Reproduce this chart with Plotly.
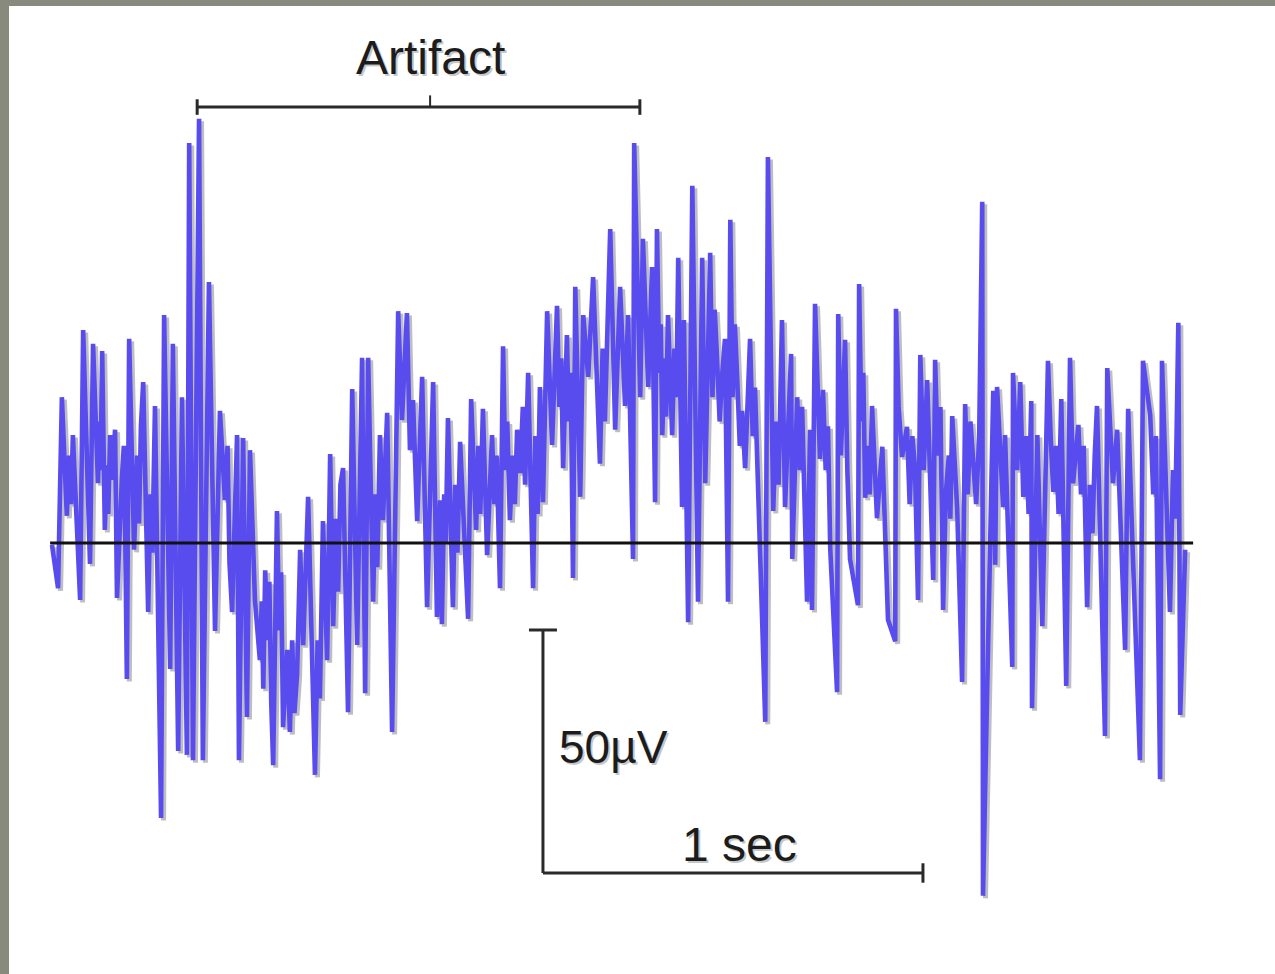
import plotly.graph_objects as go

# EEG trace: sample times (ms) and amplitudes (µV)
time_ms = [
    0, 16, 26, 39, 45, 50, 55, 74, 82, 100, 108, 121, 125, 128, 132, 139, 144, 148, 153, 158,
    166, 171, 184, 189, 193, 197, 203, 216, 224, 229, 234, 240, 253, 259, 264, 271, 287, 295, 311, 318,
    332, 342, 355, 361, 371, 387, 397, 413, 429, 442, 455, 462, 467, 474, 487,
    492, 503, 513, 521, 534, 547, 552, 556, 561, 567, 572, 577, 582, 592, 598, 603, 608, 619, 626, 632,
    638, 645, 653, 661, 674, 692, 699, 705, 713, 724, 732, 740, 747, 753, 759, 766, 779, 790, 803, 816,
    824, 832, 845, 851, 856, 863, 871, 882, 895, 911, 921, 934, 942, 950, 961, 974, 987,
    1003, 1013, 1021, 1026, 1032, 1036, 1042, 1055, 1061, 1067, 1074, 1087, 1095, 1103, 1116, 1122, 1127, 1134, 1145, 1158,
    1164, 1170, 1179, 1187, 1193, 1198, 1205, 1212, 1218, 1224, 1232, 1239, 1245, 1253, 1266, 1272, 1278, 1284, 1292, 1303,
    1316, 1329, 1335, 1340, 1345, 1355, 1360, 1365, 1371, 1377, 1390, 1398, 1411, 1424, 1442, 1449, 1455, 1462, 1469, 1482,
    1495, 1508, 1516, 1529, 1532, 1548, 1555, 1569, 1579, 1587, 1592, 1598, 1602, 1606, 1612, 1616, 1621, 1632, 1638, 1643,
    1648, 1658, 1663, 1674, 1685, 1700, 1711, 1719, 1732, 1738, 1744, 1750, 1757, 1764, 1771, 1779, 1785, 1791, 1797, 1803,
    1810, 1816, 1824, 1837, 1844, 1850, 1858, 1877, 1884, 1898, 1905, 1912, 1921, 1929, 1945, 1948, 1961, 1968, 1974, 1980,
    1987, 1995,
    2000, 2008, 2021, 2029, 2036, 2042, 2048, 2066, 2069, 2076, 2081, 2087, 2093, 2100, 2121, 2124, 2130, 2135, 2140, 2147,
    2152, 2158, 2171, 2185, 2200, 2219, 2221, 2228, 2237, 2250, 2257, 2264, 2271, 2279, 2285, 2294, 2303, 2319, 2324, 2331,
    2338, 2345, 2352, 2360, 2364, 2369, 2382, 2395, 2403, 2410, 2417, 2424, 2432, 2440, 2448, 2450, 2477, 2482,
    2487, 2503, 2508, 2527, 2529, 2540, 2548, 2556, 2563, 2570, 2577, 2579, 2593, 2606, 2621, 2628, 2635, 2642, 2649, 2656,
    2669, 2679, 2687, 2701, 2708, 2715, 2724, 2731, 2738, 2744, 2750, 2771, 2777, 2792, 2803, 2824, 2832, 2842, 2863, 2871,
    2890, 2898, 2905, 2916, 2921, 2942, 2950, 2956, 2964, 2969, 2982,
]
amp_uv = [
    -0.4, -9.3, 30.0, 5.6, 18.0, 8.0, 22.2, -11.7, 43.8, -4.3, 41.0, 12.3, 25.0, 15.0, 39.5, 2.7, 16.0, 6.0, 22.2, 13.0,
    23.3, -11.3, 13.4, 20.0, 0.0, -28.0, 42.0, -1.4, 18.0, 4.0, 24.0, 33.1, -14.2, 10.0, -2.0, 28.2, -56.6, 46.9, -25.9, 41.0,
    -42.8, 30.0, -43.6, 82.3, -44.7, 87.3, -44.7, 53.7, -18.1, 27.2, 8.8, 20.0, -4.0, -14.2, 22.2,
    -44.7, 21.6, -35.8, 19.1, -11.7, -24.1, -12.0, -30.0, -5.6, -20.0, -8.0, -33.0, -45.7, 6.6, -18.0, -6.0, -37.9, -22.0, -38.9, -20.0,
    -35.0, -27.0, -1.4, -21.0, 9.5, -47.7, -20.0, -32.0, 4.5, -24.1, 18.3, -17.1, 5.0, -10.0, 12.0, 15.4, -34.8, 31.7, -21.0, 38.1,
    -30.9, 38.1, -12.1, 10.0, -5.0, 22.2, 4.7, 26.8, -38.9, 47.7, 25.3, 47.3, 19.1, 29.4, 4.5, 34.2, -13.2,
    33.1, -15.2, 8.8, -16.7, 10.0, 0.0, 25.7, -13.2, 12.0, -2.0, 20.8, -3.5, -15.6, 29.6, 2.7, 20.0, 6.0, 27.6, -2.5, 22.2,
    8.0, 18.0, -9.3, 40.5, 15.0, 25.0, 4.7, 18.0, 8.0, 23.3, 14.4, 28.0, 12.0, 35.0, -9.3, 22.0, 6.0, 32.1, 8.4, 47.7,
    20.2, 48.8, 28.0, 38.0, 15.4, 42.8, 25.0, 35.0, -7.2, 52.7, 9.5, 46.9, 34.2, 54.7, 16.3, 40.0, 25.0, 45.0, 64.6, 23.3,
    52.7, 28.2, 46.9, -3.3, 82.3, 30.0, 62.6, 32.1, 56.8, 8.4, 64.6, 35.0, 45.0, 22.2, 38.0, 26.0, 46.9, 22.2, 40.0, 30.0,
    58.7, 7.4, 45.9, -16.3, 73.5, -12.1, 58.7, 12.3, 59.7, 30.0, 48.0, 38.1, 25.0, 35.0, 42.0, -12.1, 66.5, 30.0, 45.0, 34.2,
    20.0, 27.2, 15.4, 42.0, 22.0, 32.0, 12.3, -36.8, 79.4, 6.6, 25.0, 12.0, 45.9, 7.4, 38.9, -3.3, 30.0, 15.0, 28.0, 5.0,
    -12.1, 23.3,
    -13.8, 49.2, 17.3, 31.5, 15.0, 24.0, -1.2, -30.7, 47.1, 18.0, 30.0, 41.8, 15.0, -3.3, -12.8, 53.3, 25.0, 35.0, 9.3, 20.0,
    10.0, 28.2, 5.1, 19.8, -15.8, -20.2, 48.2, 28.0, 17.7, 23.9, 8.0, 22.0, 15.6, -11.7, 38.7, 15.0, 33.5, -7.6, 37.7, 18.0,
    28.0, -13.8, 10.0, 18.0, 5.0, 26.1, 7.2, -28.6, 28.6, 10.0, 25.0, 17.7, 8.0, 22.0, 70.2, -72.6, 31.3, -4.5,
    32.1, 7.4, 22.2, -25.5, 35.0, 15.0, 33.1, 9.5, 22.0, 6.0, 29.2, -34.0, 22.2, -17.1, 37.5, 22.0, 10.5, 20.0, 6.0, 29.6,
    -29.4, 38.1, 12.3, 24.3, 10.0, 20.0, -13.2, 12.0, 2.0, 18.0, 28.2, -39.7, 36.0, 12.3, 23.3, -22.0, 27.6, 2.7, -44.7, 37.5,
    26.3, 10.0, 22.0, -48.6, 37.5, -14.2, 15.0, 5.0, 45.3, -35.4, -1.4,
]
assert len(time_ms) == len(amp_uv)

# Marked artifact window (ms) and calibration bar
artifact_window_ms = [382, 1547]
artifact_label_ms = 995
scale_origin_ms = 1292
scale_origin_uv = -67.9
scale_time_ms = 1000
scale_amp_uv = 50

# Axis geometry: 0.38 px per ms, 4.86 px per µV
PX_PER_MS = 0.38
PX_PER_UV = 4.86
x_range = [-52 / PX_PER_MS, 1223 / PX_PER_MS]
y_range = [-431 / PX_PER_UV, 543 / PX_PER_UV]

TRACE_BLUE = "rgb(88, 76, 238)"
INK = "#1c1c1c"
BAR = "#2a2a2a"
FONT = "Liberation Sans, Arial, sans-serif"

fig = go.Figure()

# soft drop shadow under the trace
fig.add_trace(go.Scatter(
    x=[t + 2.5 / PX_PER_MS for t in time_ms],
    y=[v - 2.5 / PX_PER_UV for v in amp_uv],
    mode="lines",
    line=dict(color="rgba(70, 70, 80, 0.35)", width=5),
    hoverinfo="skip",
    showlegend=False,
))
fig.add_trace(go.Scatter(
    x=time_ms,
    y=amp_uv,
    mode="lines",
    line=dict(color=TRACE_BLUE, width=4.6),
    showlegend=False,
))

shapes = []
# zero baseline
shapes.append(dict(type="line", xref="x", yref="y",
                   x0=time_ms[0] - 5, x1=time_ms[-1] + 21, y0=0, y1=0,
                   line=dict(color="#111111", width=3), layer="above"))

# artifact bracket
bracket_uv = 89.7
tick_uv = 1.6
a0, a1 = artifact_window_ms
shapes += [
    dict(type="line", xref="x", yref="y", x0=a0, x1=a1, y0=bracket_uv, y1=bracket_uv,
         line=dict(color=BAR, width=3)),
    dict(type="line", xref="x", yref="y", x0=a0, x1=a0, y0=bracket_uv - tick_uv, y1=bracket_uv + tick_uv,
         line=dict(color=BAR, width=3)),
    dict(type="line", xref="x", yref="y", x0=a1, x1=a1, y0=bracket_uv - tick_uv, y1=bracket_uv + tick_uv,
         line=dict(color=BAR, width=3)),
    dict(type="line", xref="x", yref="y", x0=artifact_label_ms, x1=artifact_label_ms,
         y0=bracket_uv, y1=bracket_uv + 2.4, line=dict(color=BAR, width=2)),
]

# calibration bar: 50 µV vertical, 1 s horizontal
sx0, sy0 = scale_origin_ms, scale_origin_uv
sx1, sy1 = sx0 + scale_time_ms, sy0 + scale_amp_uv
cap_ms = 14 / PX_PER_MS
shapes += [
    dict(type="line", xref="x", yref="y", x0=sx0, x1=sx0, y0=sy0, y1=sy1,
         line=dict(color=BAR, width=3)),
    dict(type="line", xref="x", yref="y", x0=sx0, x1=sx1, y0=sy0, y1=sy0,
         line=dict(color=BAR, width=3)),
    dict(type="line", xref="x", yref="y", x0=sx0 - cap_ms, x1=sx0 + cap_ms, y0=sy1, y1=sy1,
         line=dict(color=BAR, width=3)),
    dict(type="line", xref="x", yref="y", x0=sx1, x1=sx1, y0=sy0 - 2.0, y1=sy0 + 2.0,
         line=dict(color=BAR, width=3)),
]

# grey-green frame along the top and left edges
FRAME = "#878a7c"
shapes += [
    dict(type="rect", xref="paper", yref="paper", x0=0, x1=1, y0=1 - 6 / 974, y1=1,
         fillcolor=FRAME, line=dict(width=0), layer="above"),
    dict(type="rect", xref="paper", yref="paper", x0=0, x1=9 / 1275, y0=0, y1=1,
         fillcolor=FRAME, line=dict(width=0), layer="above"),
]

labels = [
    ("Artifact", artifact_label_ms, bracket_uv + 10.2, "center", 48),
    ("50µV", sx0 + 14 / PX_PER_MS, sy0 + 26.0, "left", 46),
    ("1 sec", sx0 + 518, sy0 + 5.8, "center", 48),
]
annotations = []
for text, x, y, anchor, size in labels:
    # faint offset copy gives the lettering a soft shadow
    annotations.append(dict(text=text, x=x, y=y, xref="x", yref="y", xshift=2, yshift=-2,
                            showarrow=False, xanchor=anchor, yanchor="middle",
                            font=dict(family=FONT, size=size, color="rgba(0,0,0,0.22)")))
    annotations.append(dict(text=text, x=x, y=y, xref="x", yref="y",
                            showarrow=False, xanchor=anchor, yanchor="middle",
                            font=dict(family=FONT, size=size, color=INK)))

fig.update_layout(
    width=1275, height=974,
    margin=dict(l=0, r=0, t=0, b=0, pad=0),
    paper_bgcolor="white", plot_bgcolor="white",
    xaxis=dict(range=x_range, visible=False, fixedrange=True),
    yaxis=dict(range=y_range, visible=False, fixedrange=True),
    shapes=shapes,
    annotations=annotations,
    showlegend=False,
)

fig.write_html("out.html")
